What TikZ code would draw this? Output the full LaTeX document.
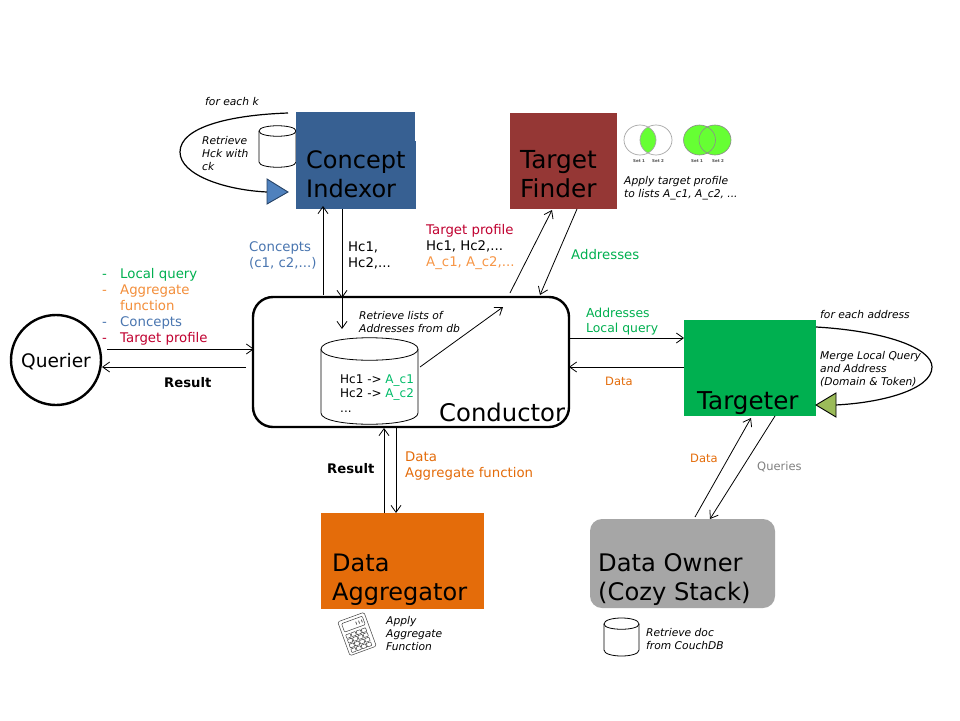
\documentclass[tikz,border=0pt]{standalone}
\usepackage{fontspec}
\setmainfont{DejaVu Sans}
\usetikzlibrary{arrows.meta,calc}
\definecolor{cblue}{HTML}{376092}
\definecolor{cred}{HTML}{953735}
\definecolor{cgreen}{HTML}{00B050}
\definecolor{corange}{HTML}{E46C0A}
\definecolor{cgray}{HTML}{A6A6A6}
\definecolor{lblblue}{HTML}{4A76B0}
\definecolor{lblred}{HTML}{C00030}
\definecolor{lblorange}{HTML}{F79646}
\definecolor{lblgray}{HTML}{808080}
\definecolor{venn}{HTML}{66FF33}
\definecolor{triblue}{HTML}{4F81BD}
\definecolor{triolive}{HTML}{9BBB59}
\tikzset{
  arr/.style={draw=black,line width=0.8pt,-{Straight Barb[length=7pt,width=10pt,line width=0.8pt]}},
  loopline/.style={draw=black,line width=1.2pt},
  bx/.style={draw=none,inner sep=0pt,outer sep=0pt},
  title/.style={inner sep=0pt,anchor=base west,align=left,font=\fontsize{24}{29}\selectfont},
  lbl/.style={inner sep=0pt,anchor=base west,align=left,font=\fontsize{13.3}{16}\selectfont},
  note/.style={inner sep=0pt,anchor=base west,align=left,font=\fontsize{10.7}{12.9}\selectfont\itshape},
  bold/.style={inner sep=0pt,anchor=base west,font=\fontsize{13.2}{15}\selectfont\bfseries},
  setlbl/.style={inner sep=0pt,font=\fontsize{4}{5}\selectfont\bfseries,text=black!70},
  cyl/.style={draw=black,line width=0.8pt,fill=white},
  vennline/.style={draw=black!35,line width=0.7pt},
}
\begin{document}
\begin{tikzpicture}[x=1pt,y=-1pt]
\useasboundingbox (0,0) rectangle (960,720);
\fill[white] (0,0) rectangle (960,720);

% small cylinder beside the concept indexor
\draw[cyl] (259,131) -- (259,162) .. controls (259,169) and (296,169) .. (296,162) -- (296,131)
  .. controls (296,124) and (259,124) .. (259,131) -- cycle;
\draw[cyl] (259,131) .. controls (259,138) and (296,138) .. (296,131);

% main boxes
\node[bx,fill=cblue,minimum width=119pt,minimum height=97pt] (indexor) at (355.5,160.5) {};
\fill[cblue] (415,141) rectangle (416,209);
\node[bx,fill=cred,minimum width=107pt,minimum height=96pt] (finder) at (563.5,161) {};
\node[bx,fill=cgreen,minimum width=132pt,minimum height=96pt] (targeter) at (750,368) {};
\node[bx,fill=corange,minimum width=163pt,minimum height=96pt] (aggregator) at (402.5,561) {};
\node[bx,fill=cgray,rounded corners=12pt,minimum width=185pt,minimum height=89pt] (owner) at (682.5,563.5) {};
\node[draw=black,line width=2.4pt,fill=white,rounded corners=20pt,inner sep=0pt,outer sep=0pt,minimum width=316pt,minimum height=130pt] (conductor) at (411,362) {};
\node[draw=black,line width=2.4pt,fill=white,circle,inner sep=0pt,outer sep=0pt,minimum size=90pt] (querier) at (56,360) {};

% box titles
\node[title] (tIndexor) at (306,197) {Concept\\Indexor};
\node[title,font=\fontsize{24.8}{29}\selectfont] (tFinder) at (520,197.5) {Target\\Finder};
\node[title,font=\fontsize{24.6}{29}\selectfont] (tTargeter) at (697,409) {Targeter};
\node[title] (tAggregator) at (332,600) {Data\\Aggregator};
\node[title,font=\fontsize{24.2}{29}\selectfont] (tOwner) at (598,600) {Data Owner\\(Cozy Stack)};
\node[title,font=\fontsize{24.3}{29}\selectfont] (tConductor) at (439,421) {Conductor};
\node[inner sep=0pt,anchor=base,font=\fontsize{18.6}{22}\selectfont] (tQuerier) at (56,367) {Querier};

% database in conductor
\draw[cyl] (321,349) -- (321,413) .. controls (321,428) and (418,428) .. (418,413) -- (418,349)
  .. controls (418,334) and (321,334) .. (321,349) -- cycle;
\draw[cyl] (321,349) .. controls (321,364) and (418,364) .. (418,349);
\coordinate (dbOut) at (420,367);
\node[lbl,font=\fontsize{12}{14.4}\selectfont] (dbText) at (340,412) {Hc1 -> \textcolor{cgreen!85!cyan}{A\_c1}\\Hc2 -> \textcolor{cgreen!85!cyan}{A\_c2}\\...};

% self loops
\draw[loopline] ($(indexor.north west)+(-8,1)$) .. controls (230,115) and (180,127) .. (180,152)
  .. controls (180,175) and (225,190) .. (267,192);
\draw[draw=cblue!70!black,line width=0.9pt,fill=triblue] (267,179) -- (288,192) -- (267,204) -- cycle;
\draw[loopline] ($(targeter.north east)+(0,7)$) .. controls (885,331) and (932,348) .. (932,367)
  .. controls (932,390) and (880,403) .. (835,405);
\draw[draw=black,line width=0.9pt,fill=triolive] (816,405) -- (836,393) -- (836,417) -- cycle;

% connectors
\draw[arr] ($(conductor.north west)+(70,-2)$) -- ($(indexor.south west)+(27,-3)$);
\draw[arr] ($(indexor.south west)+(46,0)$) -- ($(conductor.north west)+(89,1)$);
\draw[arr] ($(conductor.north west)+(89,0)$) -- ($(conductor.north west)+(89,32)$);
\draw[arr] ($(conductor.north west)+(257,-4)$) -- ($(finder.south west)+(42,1)$);
\draw[arr] ($(finder.south west)+(67,0)$) -- ($(conductor.north west)+(287,-2)$);
\draw[arr] (dbOut) -- ($(conductor.north west)+(250,10)$);
\draw[arr] ($(querier.east)+(6,-11)$) -- ($(conductor.west)+(1,-13)$);
\draw[arr] ($(conductor.west)+(-7,5)$) -- ($(querier.east)+(1,7)$);
\draw[arr] ($(conductor.north east)+(0,41)$) -- ($(targeter.north west)+(0,18)$);
\draw[arr] ($(targeter.north west)+(0,47)$) -- ($(conductor.north east)+(0,70)$);
\draw[arr] ($(aggregator.north west)+(63,0)$) -- ($(conductor.south west)+(131,1)$);
\draw[arr] ($(conductor.south west)+(143,0)$) -- ($(aggregator.north west)+(75,0)$);
\draw[arr] ($(owner.north west)+(105,-2)$) -- ($(targeter.south west)+(67,2)$);
\draw[arr] ($(targeter.south west)+(91,0)$) -- ($(owner.north west)+(120,0)$);

% labels
\node[lbl,text=lblblue] (lConcepts) at (249,267) {Concepts\\(c1, c2,...)};
\node[lbl] (lHc) at (348,267) {Hc1,\\Hc2,...};
\node[lbl] (lProfile) at (426,266) {\textcolor{lblred}{Target profile}\\Hc1, Hc2,...\\\textcolor{lblorange}{A\_c1, A\_c2,...}};
\node[lbl,text=cgreen] (lAddr) at (571,259) {Addresses};
\node[lbl,text=cgreen,font=\fontsize{12.4}{15}\selectfont] (lAddrLq) at (586,332) {Addresses\\Local query};
\node[lbl,text=corange,font=\fontsize{11.5}{14}\selectfont] (lData1) at (605,385) {Data};
\node[lbl,text=corange,font=\fontsize{11.5}{14}\selectfont] (lData2) at (690,462) {Data};
\node[lbl,text=lblgray,font=\fontsize{11.5}{14}\selectfont] (lQueries) at (757,470) {Queries};
\node[lbl,text=corange] (lDataAgg) at (405,477) {Data\\Aggregate function};
\node[bold] (lRes1) at (164,387) {Result};
\node[bold] (lRes2) at (327,473) {Result};

% querier list
\node[lbl,text=cgreen] (d1) at (102,278) {-};
\node[lbl,text=cgreen] (i1) at (120,278) {Local query};
\node[lbl,text=lblorange!80!corange] (d2) at (102,294) {-};
\node[lbl,text=lblorange!80!corange] (i2) at (120,310) {Aggregate\\function};
\node[lbl,text=lblblue] (d3) at (102,326) {-};
\node[lbl,text=lblblue] (i3) at (120,326) {Concepts};
\node[lbl,text=lblred] (d4) at (102,342) {-};
\node[lbl,text=lblred] (i4) at (120,342) {Target profile};

% notes
\node[note] (n1) at (205,105) {for each k};
\node[note] (n2) at (202,170) {Retrieve\\Hck with\\ck};
\node[note] (n3) at (359,332) {Retrieve lists of\\Addresses from db};
\node[note] (n4) at (624,197) {Apply target profile\\to lists A\_c1, A\_c2, ...};
\node[note] (n5) at (820,318) {for each address};
\node[note] (n6) at (820,385) {Merge Local Query\\and Address\\(Domain \& Token)};
\node[note] (n7) at (386,650) {Apply\\Aggregate\\Function};
\node[note] (n8) at (646,649) {Retrieve doc\\from CouchDB};

% bottom cylinder
\draw[cyl] (604,624) -- (604,650) .. controls (604,658) and (639,658) .. (639,650) -- (639,624)
  .. controls (639,616) and (604,616) .. (604,624) -- cycle;
\draw[cyl] (604,624) .. controls (604,631) and (639,631) .. (639,624);

% Venn diagrams
\begin{scope}
  \clip (640,140) ellipse (16 and 15);
  \fill[venn] (656,140) ellipse (16 and 15);
\end{scope}
\draw[vennline] (640,140) ellipse (16 and 15);
\draw[vennline] (656,140) ellipse (16 and 15);
\node[setlbl] (s1) at (639,161) {Set 1};
\node[setlbl] (s2) at (658,161) {Set 2};
\fill[venn] (699.5,140) ellipse (16 and 15);
\fill[venn] (715,140) ellipse (16 and 15);
\draw[draw=black!45,line width=0.6pt] (699.5,140) ellipse (16 and 15);
\draw[draw=black!45,line width=0.6pt] (715,140) ellipse (16 and 15);
\node[setlbl] (s3) at (697,161) {Set 1};
\node[setlbl] (s4) at (718,161) {Set 2};

% calculator icon
\begin{scope}[shift={(357,634)},rotate=20,line width=0.5pt,draw=black!75]
  \draw[rounded corners=1.5pt,fill=white] (-14,-18) rectangle (14,18);
  \draw[rounded corners=1pt] (-11,-15) rectangle (11,-6);
  \foreach \yy in {-3,2,7,12} \foreach \xx in {-11,-5.5,0,5.5}
    \draw[rounded corners=0.5pt] (\xx,\yy) rectangle ++(4.6,3.8);
  \draw[line width=0.7pt] (3,-12) -- (3,-9) (6,-12) -- (6,-9) (9,-12) -- (9,-9);
\end{scope}
\end{tikzpicture}
\end{document}
